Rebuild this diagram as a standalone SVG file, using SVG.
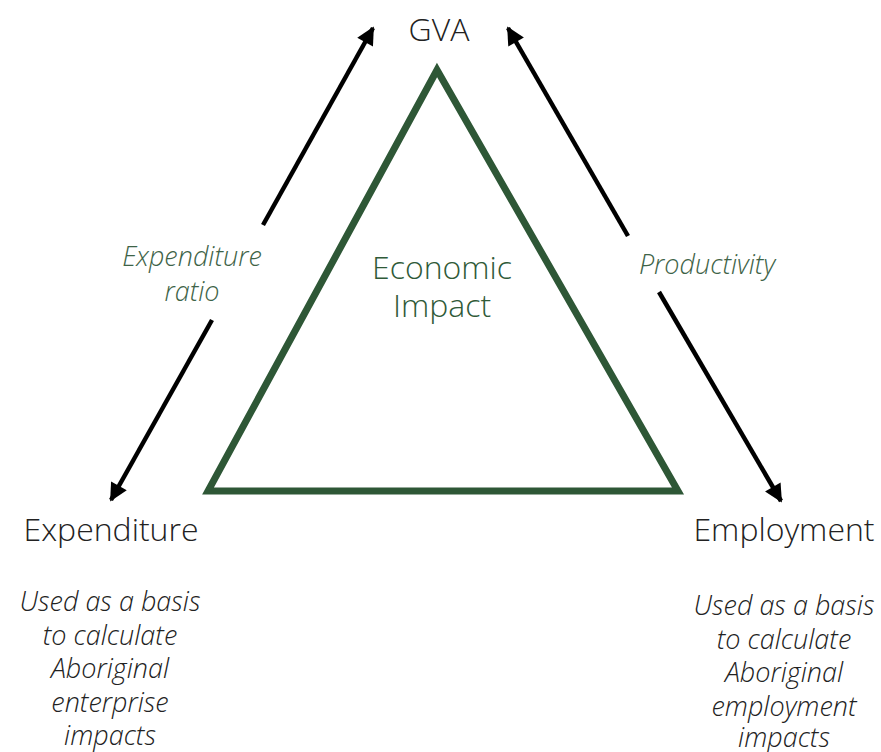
<svg xmlns="http://www.w3.org/2000/svg" width="881" height="752" viewBox="0 0 881 752">
<style>
text{font-family:"Open Sans","Liberation Sans",sans-serif;text-anchor:middle;font-weight:300}
.lbl{font-size:32px;fill:#222}
.grn{font-size:32px;fill:#2f5a38}
.edge{font-size:27px;fill:#3e6347;font-style:italic}
.note{font-size:27px;fill:#222;font-style:italic}
.conn{stroke:#000;stroke-width:4.5;fill:none}
</style>
<defs>
<marker id="ah" viewBox="0 0 10 10" refX="9" refY="5" markerWidth="4.5" markerHeight="4" orient="auto" markerUnits="strokeWidth">
<path d="M0,0 L10,5 L0,10 z" fill="#000"/>
</marker>
</defs>
<g id="triangle">
<polygon points="437,70 208,491 678,491" fill="none" stroke="#2e5736" stroke-width="7" stroke-linejoin="miter"/>
<text class="grn" x="442" y="279">Economic</text>
<text class="grn" x="442" y="317">Impact</text>
</g>
<g id="connectors">
<line class="conn" x1="263" y1="225" x2="373" y2="28" marker-end="url(#ah)"/>
<line class="conn" x1="212" y1="320" x2="111" y2="500" marker-end="url(#ah)"/>
<line class="conn" x1="628" y1="236" x2="508" y2="28" marker-end="url(#ah)"/>
<line class="conn" x1="659" y1="292" x2="781" y2="501" marker-end="url(#ah)"/>
<text class="edge" x="192" y="266">Expenditure</text>
<text class="edge" x="192" y="301">ratio</text>
<text class="edge" x="707" y="274">Productivity</text>
</g>
<g id="gva">
<text class="lbl" x="439" y="41">GVA</text>
</g>
<g id="expenditure">
<text class="lbl" x="111" y="541">Expenditure</text>
<text class="note" x="110" y="611">Used as a basis</text>
<text class="note" x="110" y="645">to calculate</text>
<text class="note" x="110" y="678">Aboriginal</text>
<text class="note" x="110" y="712">enterprise</text>
<text class="note" x="110" y="745">impacts</text>
</g>
<g id="employment">
<text class="lbl" x="784" y="541">Employment</text>
<text class="note" x="784" y="615">Used as a basis</text>
<text class="note" x="784" y="649">to calculate</text>
<text class="note" x="784" y="682">Aboriginal</text>
<text class="note" x="784" y="716">employment</text>
<text class="note" x="784" y="747">impacts</text>
</g>
</svg>
